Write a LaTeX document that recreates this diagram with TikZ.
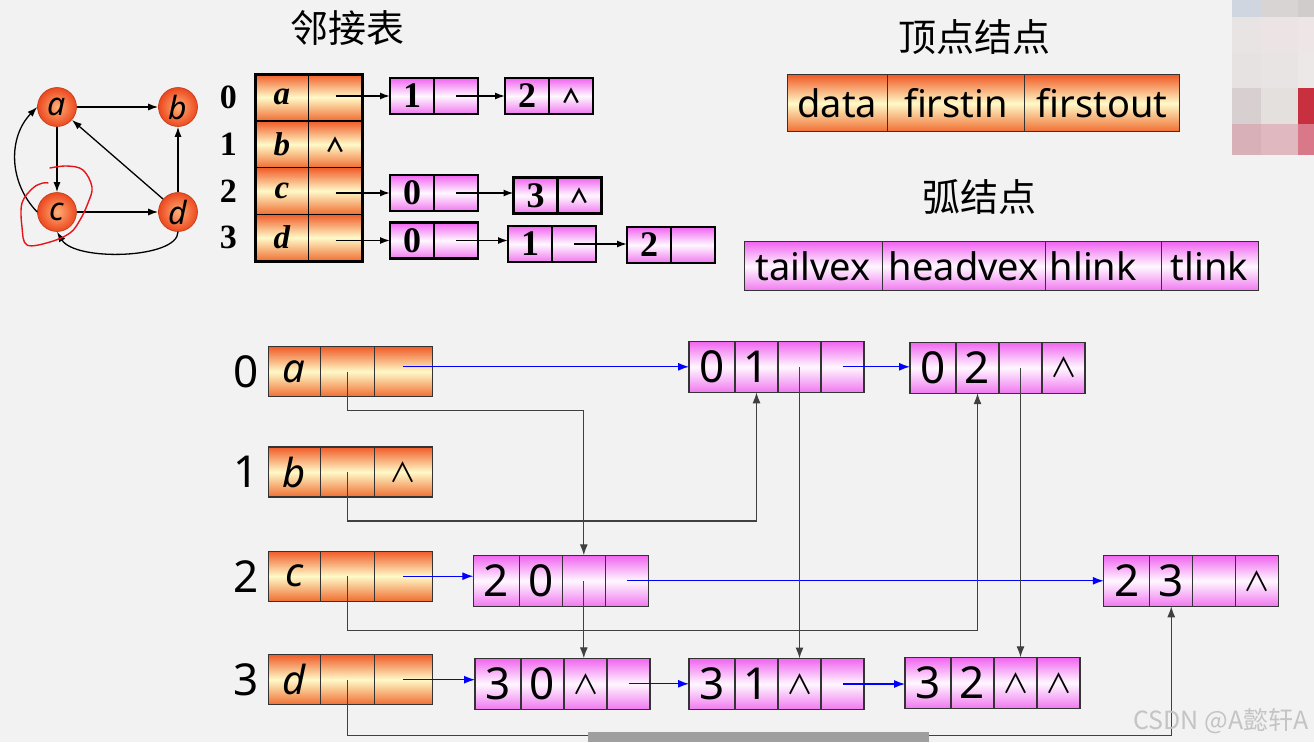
\documentclass[tikz,border=0pt]{standalone}
\usepackage{fontspec}
\setmainfont{Noto Sans}
\newfontfamily\cjk{Noto Sans CJK SC}
\newfontfamily\tnr{Liberation Serif}
\usetikzlibrary{positioning}
\usetikzlibrary{arrows.meta}

\definecolor{bgcol}{RGB}{242,242,242}
\definecolor{vtop}{RGB}{240,92,40}
\definecolor{vbot}{RGB}{240,110,50}
\definecolor{vmid}{RGB}{255,250,200}
\definecolor{etop}{RGB}{240,100,240}
\definecolor{ebot}{RGB}{240,120,240}
\definecolor{emid}{RGB}{255,248,255}
\definecolor{gin}{RGB}{255,175,120}
\definecolor{gout}{RGB}{236,72,30}
\definecolor{scrib}{RGB}{230,20,25}
\definecolor{wmark}{RGB}{196,196,196}
% mosaic blocks
\definecolor{mz00}{RGB}{208,214,224}
\definecolor{mz01}{RGB}{216,212,212}
\definecolor{mz02}{RGB}{208,204,204}
\definecolor{mz10}{RGB}{232,228,228}
\definecolor{mz11}{RGB}{236,228,228}
\definecolor{mz12}{RGB}{238,230,230}
\definecolor{mz20}{RGB}{230,226,226}
\definecolor{mz21}{RGB}{232,228,228}
\definecolor{mz22}{RGB}{236,232,232}
\definecolor{mz30}{RGB}{216,208,208}
\definecolor{mz31}{RGB}{228,224,222}
\definecolor{mz32}{RGB}{200,48,64}
\definecolor{mz40}{RGB}{216,176,184}
\definecolor{mz41}{RGB}{224,184,192}
\definecolor{mz42}{RGB}{216,120,136}

\newcommand{\nilsm}{{\cjk\fontsize{20}{20}\selectfont ∧}}
\newcommand{\nilbig}{{\cjk\fontsize{27}{27}\selectfont ∧}}

\tikzset{
  vcell/.style={draw=black!80, line width=1.2pt, inner sep=0pt, outer sep=0pt,
    minimum height=50pt, top color=vtop, bottom color=vbot, middle color=vmid,
    font=\fontsize{40}{40}\selectfont},
  ecell/.style={draw=black!80, line width=1.2pt, inner sep=0pt, outer sep=0pt,
    minimum width=43pt, minimum height=51pt, top color=etop, bottom color=ebot,
    middle color=emid, font=\fontsize{44}{44}\selectfont},
  tcell/.style={draw=black, line width=1.5pt, inner sep=0pt, outer sep=0pt,
    minimum height=46.7pt, top color=vtop, bottom color=vbot, middle color=vmid,
    font=\tnr\bfseries\itshape\fontsize{33}{33}\selectfont},
  lcell/.style={draw=black, line width=2.6pt, inner sep=0pt, outer sep=0pt,
    minimum width=44pt, minimum height=36pt, top color=etop, bottom color=ebot,
    middle color=emid, font=\tnr\bfseries\fontsize{36}{36}\selectfont},
  vhead/.style={draw=black!80, line width=1pt, inner sep=0pt, outer sep=0pt,
    minimum height=56.7pt, top color=vtop, bottom color=vbot, middle color=vmid,
    font=\fontsize{38}{38}\selectfont},
  ehead/.style={draw=black!80, line width=1pt, inner sep=0pt, outer sep=0pt,
    minimum height=49.3pt, top color=etop, bottom color=ebot, middle color=emid,
    font=\fontsize{38}{38}\selectfont},
  gnode/.style={circle, minimum size=39pt, inner sep=0pt, draw=gout!80!black,
    line width=0.6pt, inner color=gin, outer color=gout,
    font=\itshape\fontsize{32}{32}\selectfont},
  garrow/.style={line width=1.3pt, -{Latex[length=10pt,width=7pt]}},
  tarrow/.style={line width=1.5pt, -{Latex[length=10pt,width=7pt]}},
  blink/.style={draw=blue, line width=1.2pt, -{Latex[length=11pt,width=8pt]}},
  klink/.style={draw=black!75, line width=1.2pt, -{Latex[length=11pt,width=8pt]}},
  idx/.style={inner sep=0pt, font=\fontsize{44}{44}\selectfont},
  tidx/.style={inner sep=0pt, font=\tnr\bfseries\fontsize{34}{34}\selectfont},
  title/.style={inner sep=0pt, font=\cjk\fontsize{38}{38}\selectfont},
}

\begin{document}
\begin{tikzpicture}[x=1pt, y=-1pt]
    \fill[bgcol] (0,0) rectangle (1314,742);
    \useasboundingbox (0,0) rectangle (1314,742);

    % the graph
    \node[gnode] (a) at (57,107) {a};
    \node[gnode] (b) at (178,107) {b};
    \node[gnode] (c) at (57,212) {c};
    \node[gnode] (d) at (178,212) {d};
    \draw[garrow] (a) -- (b);
    \draw[garrow] (a) -- (c);
    \draw[garrow] (d) -- (b);
    \draw[garrow] (d) -- (a);
    \draw[garrow] (c) -- (d);
    \draw[garrow] (c.west) .. controls +(-29,-30) and +(-29,30) .. (a.west);
    \draw[garrow] (d.south) .. controls +(0,27) and +(18,30) .. (c.south);
    % hand-drawn mark round c
    \draw[scrib, line width=1.4pt, line cap=round] plot[smooth, tension=0.6] coordinates
        {(50,168) (67,166) (83,170) (92,187) (88,203) (80,220) (70,233) (50,242)
         (27,245) (22,227) (22,203) (33,188) (43,183) (48,183)};

    % adjacency list
    \node[title] (adj) at (347,28) {邻接表};
    \foreach \i/\l/\y/\q in {0/a/97.35/{}, 1/b/144.35/\nilsm, 2/c/191/{}, 3/d/237.65/{}} {
        \node[tcell, minimum width=53.7pt] (t\i-1) at (281.85,\y) {\l};
        \node[tcell, minimum width=54pt, right=0pt of t\i-1] (t\i-2) {\q};
        \node[tidx, left=18pt of t\i-1] (ti\i) {\i};
    }
    \draw[line width=3pt] (t0-1.north west) rectangle (t3-2.south east);
    \foreach \n/\x/\y/\p/\q in {n01/412/96/1/{}, n02/527/96/2/\nilsm,
                                n20/412/193/0/{}, n23/535.5/195.5/3/\nilsm,
                                n30/412/240.5/0/{}, n31/530/244/1/{}, n32/649/245/2/{}} {
        \node[lcell] (\n-1) at (\x,\y) {\p};
        \node[lcell, right=0pt of \n-1] (\n-2) {\q};
    }
    \draw[tarrow] (t0-2.center |- n01-1.west) -- (n01-1.west);
    \draw[tarrow] (n01-2.center) -- (n01-2.center -| n02-1.west);
    \draw[tarrow] (t2-2.center |- n20-1.west) -- (n20-1.west);
    \draw[tarrow] (n20-2.center) -- (n20-2.center -| n23-1.west);
    \draw[tarrow] (t3-2.center |- n30-1.west) -- (n30-1.west);
    \draw[tarrow] (n30-2.center) -- (n30-2.center -| n31-1.west);
    \draw[tarrow] (n31-2.center) -- (n31-2.center -| n32-1.west);

    % node layouts
    \node[title] (vtitle) at (974,37) {顶点结点};
    \node[vhead, minimum width=100.5pt] (hv-1) at (837.25,103.3) {data};
    \node[vhead, minimum width=137pt, right=0pt of hv-1] (hv-2) {firstin};
    \node[vhead, minimum width=154.8pt, right=0pt of hv-2] (hv-3) {firstout};
    \node[title] (etitle) at (979,197) {弧结点};
    \node[ehead, minimum width=137.6pt] (he-1) at (813.2,266.3) {tailvex};
    \node[ehead, minimum width=163.6pt, right=0pt of he-1] (he-2) {headvex};
    \node[ehead, minimum width=115.4pt, right=0pt of he-2] (he-3) {hlink\hspace*{20pt}};
    \node[ehead, minimum width=97pt, right=0pt of he-3] (he-4) {tlink};

    % orthogonal list: vertices
    \foreach \i/\l/\y/\q in {0/a/371.7/{}, 1/b/472/\nilbig, 2/c/576.2/{}, 3/d/679.7/{}} {
        \node[vcell, minimum width=52pt] (v\i-1) at (294.3,\y) {\itshape\l};
        \node[vcell, minimum width=54pt, right=0pt of v\i-1] (v\i-2) {};
        \node[vcell, minimum width=58pt, right=0pt of v\i-2] (v\i-3) {\q};
        \node[idx, left=9pt of v\i-1] (vi\i) {\i};
    }
    % orthogonal list: arcs
    \foreach \n/\x/\y/\p/\q/\r/\s in {e01/712/366.8/0/1/{}/{}, e02/933/367.7/0/2/{}/\nilbig,
                                      e20/496.3/580.8/2/0/{}/{}, e23/1126.75/580.8/2/3/{}/\nilbig,
                                      e30/498/683.8/3/0/\nilbig/{}, e31/712/684/3/1/\nilbig/{},
                                      e32/928/682.8/3/2/\nilbig/\nilbig} {
        \node[ecell, minimum width=46pt] (\n-1) at (\x,\y) {\p};
        \node[ecell, right=0pt of \n-1] (\n-2) {\q};
        \node[ecell, right=0pt of \n-2] (\n-3) {\r};
        \node[ecell, right=0pt of \n-3] (\n-4) {\s};
    }
    % tail links
    \draw[blink] (v0-3.center |- e01-1.west) -- (e01-1.west);
    \draw[blink] (e01-4.center) -- (e01-4.center -| e02-1.west);
    \draw[blink] (v2-3.center) -- (v2-3.center -| e20-1.west);
    \draw[blink] (e20-4.center) -- (e20-4.center -| e23-1.west);
    \draw[blink] (v3-3.center) -- (v3-3.center -| e30-1.west);
    \draw[blink] (e30-4.center) -- (e30-4.center -| e31-1.west);
    \draw[blink] (e31-4.center) -- (e31-4.center -| e32-1.west);
    % head links
    \draw[klink] (v0-2.center) -- ++(0,39) -| (e20-3.north);
    \draw[klink] (v1-2.center) -- ++(0,49) -| (e01-2.south);
    \draw[klink] (v2-2.center) -- ++(0,54.5) -| (e02-2.south);
    \draw[klink] (v3-2.center) -- ++(0,56) -| (e23-2.south);
    \draw[klink] (e01-3.center) -- (e01-3.center |- e31-3.north);
    \draw[klink] (e02-3.center) -- (e02-3.center |- e32-3.north);
    \draw[klink] (e20-3.center) -- (e20-3.center |- e30-3.north);

    % screen leftovers
    \fill[gray!75] (588,732) rectangle (929,742);
    \node[inner sep=0pt, text=wmark, font=\cjk\fontsize{25}{25}\selectfont] (wm) at (1221,721) {CSDN @A懿轩A};
    \foreach \r/\y/\h in {0/0/17, 1/17/36, 2/53/35, 3/88/36, 4/124/31}
        \foreach \k/\x/\w in {0/1232/29, 1/1261/37, 2/1298/16}
            \fill[mz\r\k] (\x,\y) rectangle ++(\w,\h);
\end{tikzpicture}
\end{document}
